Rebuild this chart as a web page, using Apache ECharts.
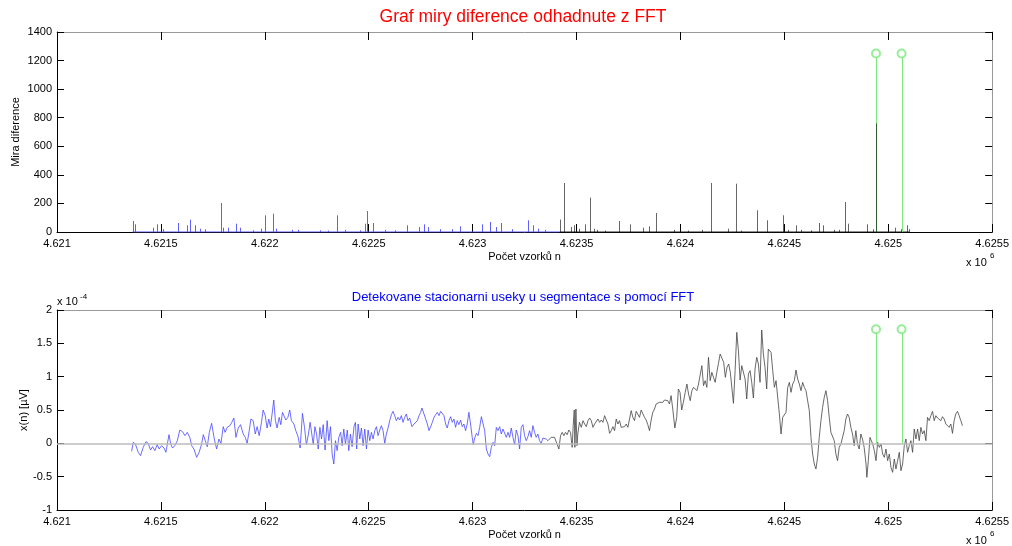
<!DOCTYPE html>
<html><head><meta charset="utf-8">
<script src="https://cdn.jsdelivr.net/npm/echarts/dist/echarts.min.js"></script>
<style>html,body{margin:0;padding:0;background:#fff}#c{width:1012px;height:546px}</style>
</head><body><div id="c"></div>
<script>
// ---------- DATA ----------
const xMin = 4621000, xMax = 4625500, xStep = 500;
const topYTicks = {min: 0, max: 1400, step: 200};
const botYTicks = {min: -1, max: 2, step: 0.5};   // units of 1e-4 µV

// FFT difference measure: [sample n, value]
const spikesBlue = [[4621364,77],[4621375,54],[4621460,30],[4621482,54],[4621511,20],[4621583,63],[4621624,47],[4621639,86],[4621663,47],[4621688,23],[4621712,19],[4621788,203],[4621800,30],[4621824,30],[4621859,58],[4621880,30],[4621941,12],[4621984,23],[4622003,117],[4622040,128],[4622056,23],[4622130,15],[4622159,15],[4622264,12],[4622303,10],[4622345,117],[4622385,15],[4622457,12],[4622481,58],[4622492,147],[4622521,63],[4622577,15],[4622625,12],[4622684,47],[4622742,35],[4622764,54],[4622785,35],[4622841,20],[4622899,20],[4622938,40],[4623047,54],[4623085,70],[4623114,35],[4623138,63],[4623188,20],[4623266,82],[4623290,47],[4623314,23],[4623346,15]];
const spikesBlack = [[4623418,87],[4623439,343],[4623474,35],[4623487,47],[4623514,23],[4623542,54],[4623566,240],[4623583,23],[4623600,15],[4623635,10],[4623702,77],[4623755,54],[4623819,30],[4623851,40],[4623883,133],[4623971,15],[4624035,10],[4624106,15],[4624148,343],[4624227,23],[4624268,338],[4624292,10],[4624369,152],[4624415,82],[4624494,117],[4624516,15],[4624556,47],[4624580,15],[4624630,12],[4624668,63],[4624684,47],[4624740,15],[4624764,15],[4624792,210],[4624805,58],[4624900,54],[4624928,20],[4624941,760],[4625032,30],[4625063,20],[4625090,47],[4625101,20]];

// detected segment boundaries
const changePoints = [4624941, 4625064];
const changeTopValue = 1250;
const changeBotValue = 1.71;

// signal x(n) in units of 1e-4
const signalBlue = [[4621359,-0.12],[4621367,0.015],[4621377,-0.01],[4621383,-0.01],[4621391,-0.135],[4621402,-0.185],[4621415,-0.06],[4621428,0.025],[4621439,0],[4621450,-0.1],[4621460,-0.05],[4621471,-0.11],[4621482,-0.02],[4621492,-0.085],[4621503,-0.035],[4621515,-0.07],[4621524,-0.135],[4621539,0.13],[4621547,-0.01],[4621556,-0.07],[4621567,-0.035],[4621579,0.04],[4621591,0.2],[4621604,0.175],[4621616,0.115],[4621627,0.165],[4621640,0.08],[4621648,-0.035],[4621659,-0.085],[4621672,-0.21],[4621684,-0.135],[4621696,-0.01],[4621704,0.13],[4621716,0.015],[4621723,-0.05],[4621733,0.165],[4621744,0.3],[4621757,0.065],[4621768,-0.085],[4621779,0.065],[4621789,0],[4621800,0.25],[4621809,0.165],[4621819,0.24],[4621832,0.265],[4621841,0.315],[4621851,0.38],[4621861,0.09],[4621872,0.23],[4621883,0.28],[4621896,0.14],[4621906,0.09],[4621915,0],[4621925,0.19],[4621933,0.365],[4621944,0.34],[4621954,0.14],[4621963,0.25],[4621973,0.115],[4621984,0.315],[4621992,0.5],[4622002,0.415],[4622011,0.23],[4622019,0.365],[4622027,0.25],[4622035,0.44],[4622043,0.65],[4622051,0.34],[4622059,0.23],[4622069,0.39],[4622077,0.28],[4622085,0.465],[4622093,0.48],[4622101,0.35],[4622111,0.39],[4622120,0.5],[4622128,0.34],[4622140,0.29],[4622149,0.19],[4622160,0.1],[4622170,-0.07],[4622181,0.45],[4622191,0.24],[4622200,-0.02],[4622210,0.14],[4622218,0.315],[4622226,0.14],[4622233,-0.02],[4622241,0.25],[4622249,0.14],[4622257,-0.085],[4622265,0.24],[4622273,0.065],[4622281,0.28],[4622290,-0.1],[4622300,0.34],[4622308,0.04],[4622316,0.25],[4622324,-0.16],[4622332,-0.31],[4622340,0.04],[4622348,-0.11],[4622356,0.09],[4622365,0.165],[4622372,-0.035],[4622380,0.215],[4622388,-0.01],[4622397,0.2],[4622404,-0.11],[4622412,0.14],[4622420,-0.05],[4622429,0.25],[4622436,0.315],[4622442,-0.085],[4622449,0.29],[4622457,0.065],[4622465,0.23],[4622473,-0.035],[4622481,0.215],[4622489,-0.085],[4622497,0.2],[4622505,0.04],[4622513,0.165],[4622521,0.065],[4622529,0.19],[4622537,0.25],[4622545,0.115],[4622553,0.2],[4622561,0.265],[4622569,0.19],[4622577,0],[4622585,0.14],[4622593,0.23],[4622601,0.34],[4622609,0.43],[4622617,0.48],[4622625,0.415],[4622633,0.34],[4622641,0.39],[4622649,0.35],[4622657,0.415],[4622665,0.315],[4622673,0.39],[4622681,0.44],[4622689,0.34],[4622697,0.38],[4622708,0.25],[4622718,0.29],[4622726,0.28],[4622734,0.34],[4622742,0.415],[4622750,0.465],[4622756,0.53],[4622766,0.44],[4622774,0.365],[4622782,0.29],[4622790,0.19],[4622798,0.25],[4622806,0.315],[4622814,0.39],[4622822,0.43],[4622830,0.465],[4622838,0.415],[4622846,0.48],[4622854,0.465],[4622862,0.415],[4622870,0.29],[4622878,0.23],[4622886,0.34],[4622894,0.4],[4622902,0.315],[4622910,0.365],[4622918,0.24],[4622926,0.34],[4622934,0.28],[4622942,0.35],[4622950,0.25],[4622958,0.29],[4622966,0.19],[4622974,0.29],[4622982,0.465],[4622990,0.29],[4622998,0.09],[4623003,-0.02],[4623010,0.08],[4623018,0.15],[4623026,0.115],[4623034,0.24],[4623042,0.4],[4623050,0.415],[4623058,0.19],[4623066,-0.085],[4623074,-0.16],[4623082,-0.2],[4623090,-0.06],[4623098,0.015],[4623106,-0.035],[4623114,0.24],[4623122,0.19],[4623130,0.25],[4623138,0.14],[4623146,0.215],[4623154,0.19],[4623162,0.09],[4623170,0.165],[4623178,0.09],[4623186,0.23],[4623194,0.09],[4623202,-0.02],[4623210,0.2],[4623218,0.115],[4623226,-0.085],[4623234,0.24],[4623242,0.28],[4623250,0.115],[4623258,0.04],[4623266,0.1],[4623274,0.19],[4623282,0.09],[4623290,0.265],[4623298,0.165],[4623306,0.09],[4623314,0.14],[4623322,0.04],[4623330,0],[4623338,0.08],[4623346,0.05],[4623354,0.065],[4623362,0.04]];
const signalBlack = [[4623362,0.04],[4623378,0.09],[4623394,0.09],[4623405,0],[4623415,-0.085],[4623423,0.115],[4623431,0.165],[4623439,0.115],[4623447,0.165],[4623455,0.13],[4623463,0.2],[4623471,0.165],[4623479,-0.06],[4623484,0.265],[4623489,0.5],[4623492,-0.06],[4623497,0.515],[4623502,-0.035],[4623506,0.14],[4623514,0.315],[4623523,0.24],[4623531,0.34],[4623539,0.29],[4623547,0.25],[4623555,0.34],[4623563,0.38],[4623571,0.34],[4623579,0.24],[4623587,0.29],[4623595,0.28],[4623603,0.365],[4623611,0.315],[4623619,0.35],[4623627,0.315],[4623635,0.415],[4623643,0.43],[4623651,0.29],[4623659,0.15],[4623667,0.19],[4623675,0.25],[4623683,0.19],[4623691,0.365],[4623699,0.29],[4623707,0.34],[4623715,0.24],[4623723,0.23],[4623731,0.25],[4623739,0.29],[4623747,0.24],[4623755,0.365],[4623763,0.49],[4623771,0.39],[4623779,0.34],[4623787,0.48],[4623795,0.45],[4623803,0.39],[4623811,0.5],[4623819,0.53],[4623827,0.39],[4623835,0.35],[4623843,0.28],[4623851,0.19],[4623859,0.35],[4623867,0.465],[4623875,0.515],[4623883,0.59],[4623891,0.565],[4623899,0.615],[4623907,0.59],[4623915,0.615],[4623923,0.65],[4623931,0.68],[4623939,0.64],[4623947,0.59],[4623955,0.715],[4623963,0.515],[4623973,0.23],[4623982,0.39],[4623990,0.815],[4623998,0.765],[4624006,0.5],[4624014,0.615],[4624023,0.765],[4624031,0.89],[4624039,0.74],[4624047,0.64],[4624055,0.79],[4624063,0.84],[4624071,0.865],[4624079,0.79],[4624087,0.89],[4624095,0.915],[4624103,1.165],[4624111,0.865],[4624119,0.94],[4624127,0.84],[4624135,1.29],[4624143,0.94],[4624151,1.065],[4624159,0.99],[4624167,0.915],[4624175,1.065],[4624183,1.2],[4624191,1.34],[4624200,1.34],[4624208,1.215],[4624216,0.99],[4624224,1.14],[4624232,1.19],[4624240,1.065],[4624248,0.815],[4624255,0.6],[4624263,1.09],[4624271,1.665],[4624279,1.39],[4624287,0.95],[4624295,1.165],[4624303,1.19],[4624311,0.965],[4624319,0.665],[4624327,1.04],[4624335,1.09],[4624343,0.915],[4624351,0.68],[4624359,1.115],[4624367,1.29],[4624375,1.19],[4624383,0.915],[4624391,1.7],[4624399,1.34],[4624407,1.14],[4624415,0.815],[4624423,1.415],[4624428,1.415],[4624436,1.365],[4624444,1.09],[4624452,0.84],[4624460,0.94],[4624468,0.965],[4624476,0.44],[4624484,0.14],[4624492,0.39],[4624500,0.415],[4624508,0.465],[4624516,0.84],[4624524,0.915],[4624532,0.765],[4624540,0.89],[4624548,0.94],[4624556,1.1],[4624564,0.965],[4624572,0.89],[4624580,0.79],[4624588,0.915],[4624596,0.84],[4624604,0.79],[4624612,0.765],[4624620,0.49],[4624628,0.09],[4624636,-0.16],[4624644,-0.31],[4624652,-0.385],[4624660,-0.21],[4624668,0.09],[4624676,0.34],[4624684,0.54],[4624692,0.69],[4624700,0.79],[4624708,0.64],[4624716,0.39],[4624724,0.165],[4624732,0.14],[4624740,0.04],[4624748,-0.16],[4624756,-0.26],[4624764,-0.06],[4624772,-0.01],[4624780,0.015],[4624788,0.19],[4624796,0.365],[4624804,0.44],[4624812,0.39],[4624820,0.24],[4624828,0.14],[4624836,-0.035],[4624844,0.19],[4624852,-0.01],[4624860,-0.085],[4624868,0.14],[4624876,0.065],[4624884,-0.06],[4624893,-0.31],[4624897,-0.51],[4624904,-0.26],[4624912,0.09],[4624917,0.115],[4624925,-0.01],[4624933,-0.11],[4624941,-0.26],[4624949,0.015],[4624957,-0.06],[4624965,-0.01],[4624973,-0.16],[4624981,-0.21],[4624989,-0.085],[4624997,-0.26],[4625005,-0.16],[4625013,-0.36],[4625021,-0.435],[4625029,-0.235],[4625037,-0.385],[4625045,-0.26],[4625053,-0.135],[4625061,-0.41],[4625069,-0.31],[4625077,-0.035],[4625085,0.065],[4625093,-0.135],[4625101,-0.035],[4625109,0.04],[4625117,-0.135],[4625125,0.215],[4625133,0.065],[4625141,0.215],[4625149,0.04],[4625157,0.24],[4625165,0.14],[4625173,0.19],[4625181,0.04],[4625189,0.39],[4625197,0.34],[4625205,0.415],[4625213,0.48],[4625221,0.34],[4625229,0.415],[4625237,0.38],[4625245,0.39],[4625253,0.34],[4625261,0.4],[4625269,0.365],[4625277,0.29],[4625285,0.315],[4625293,0.24],[4625301,0.29],[4625309,0.15],[4625317,0.34],[4625325,0.44],[4625333,0.48],[4625341,0.415],[4625349,0.34],[4625357,0.265]];

// ---------- CHART ----------
const FONT = '"Liberation Sans", Arial, sans-serif';
const chart = echarts.init(document.getElementById('c'), null, {renderer: 'canvas'});

function stemSeries(data, color, xi, yi, width, opacity, z) {
  return {
    type: 'custom', coordinateSystem: 'cartesian2d', xAxisIndex: xi, yAxisIndex: yi,
    data: data, z: z, silent: true, clip: true,
    renderItem: function (params, api) {
      const p0 = api.coord([api.value(0), 0]);
      const p1 = api.coord([api.value(0), api.value(1)]);
      const px = Math.round(p0[0]) + 0.5;   // pixel-snap the 1px stem
      return {type: 'line', shape: {x1: px, y1: p0[1], x2: px, y2: p1[1]},
        style: {stroke: color, lineWidth: width, opacity: opacity}};
    }
  };
}
const xFmt = v => String(parseFloat((v / 1e6).toFixed(4)));
const yFmt = v => String(parseFloat(v.toFixed(2)));

function xAxes(gi) {
  return [
    {gridIndex: gi, type: 'value', position: 'bottom', min: xMin, max: xMax, interval: xStep,
     axisLine: {onZero: false, lineStyle: {color: '#000', width: 1}},
     axisTick: {show: true, inside: true, length: 8, lineStyle: {color: '#000', width: 1}},
     axisLabel: {color: '#000', fontSize: 11, fontFamily: FONT, margin: 6, formatter: xFmt},
     splitLine: {show: false},
     name: 'Počet vzorků n', nameLocation: 'middle', nameGap: 19, nameMoveOverlap: false,
     nameTextStyle: {color: '#000', fontSize: 11, fontFamily: FONT}},
    {gridIndex: gi, type: 'value', position: 'top', min: xMin, max: xMax, interval: xStep,
     axisLine: {onZero: false, lineStyle: {color: '#999', width: 1}},
     axisTick: {show: true, inside: true, length: 8, lineStyle: {color: '#000', width: 1}},
     axisLabel: {show: false}, splitLine: {show: false}}
  ];
}
function yAxes(gi, t, name, gap) {
  return [
    {gridIndex: gi, type: 'value', position: 'left', min: t.min, max: t.max, interval: t.step,
     axisLine: {show: true, onZero: false, lineStyle: {color: '#000', width: 1}},
     axisTick: {show: true, inside: true, length: 7, lineStyle: {color: '#000'}},
     axisLabel: {color: '#000', fontSize: 11, fontFamily: FONT, margin: 5, formatter: yFmt},
     splitLine: {show: false},
     name: name, nameLocation: 'middle', nameGap: gap, nameMoveOverlap: false,
     nameTextStyle: {color: '#000', fontSize: 11, fontFamily: FONT}},
    {gridIndex: gi, type: 'value', position: 'right', min: t.min, max: t.max, interval: t.step,
     axisLine: {show: true, onZero: false, lineStyle: {color: '#999', width: 1}},
     axisTick: {show: true, inside: true, length: 7, lineStyle: {color: '#000'}},
     axisLabel: {show: false}, splitLine: {show: false}}
  ];
}

const blueStart = spikesBlue[0][0], blackStart = spikesBlack[0][0];
const blackEnd = spikesBlack[spikesBlack.length - 1][0];
const GREEN = '#7ee87e';

const option = {
  animation: false,
  backgroundColor: '#fff',
  grid: [
    {left: 57, top: 32, width: 936, height: 200},
    {left: 57, top: 310, width: 936, height: 200}
  ],
  xAxis: [...xAxes(0), ...xAxes(1)],
  yAxis: [...yAxes(0, topYTicks, 'Mira diference', 36), ...yAxes(1, botYTicks, 'x(n) [µV]', 28)],
  graphic: [
    {type: 'text', x: 523, y: 17, style: {text: 'Graf miry diference odhadnute z FFT', fill: '#ff0000', font: '17.5px ' + FONT, align: 'center', verticalAlign: 'middle'}},
    {type: 'text', x: 523, y: 297, style: {text: 'Detekovane stacionarni useky u segmentace s pomocí FFT', fill: '#0000ff', font: '13px ' + FONT, align: 'center', verticalAlign: 'middle'}},
    {type: 'text', x: 966, y: 263, style: {text: 'x 10', fill: '#000', font: '11px ' + FONT, align: 'left', verticalAlign: 'middle'}},
    {type: 'text', x: 990, y: 256, style: {text: '6', fill: '#000', font: '8px ' + FONT, align: 'left', verticalAlign: 'middle'}},
    {type: 'text', x: 966, y: 541, style: {text: 'x 10', fill: '#000', font: '11px ' + FONT, align: 'left', verticalAlign: 'middle'}},
    {type: 'text', x: 990, y: 534, style: {text: '6', fill: '#000', font: '8px ' + FONT, align: 'left', verticalAlign: 'middle'}},
    {type: 'text', x: 57, y: 302, style: {text: 'x 10', fill: '#000', font: '11px ' + FONT, align: 'left', verticalAlign: 'middle'}},
    {type: 'text', x: 80, y: 297, style: {text: '-4', fill: '#000', font: '8px ' + FONT, align: 'left', verticalAlign: 'middle'}}
  ],
  series: [
    // top: baseline of the difference measure
    {type: 'line', xAxisIndex: 0, yAxisIndex: 0, data: [[blueStart, 0], [blackStart, 0]], showSymbol: false, silent: true, z: 3,
     lineStyle: {color: '#5555ff', width: 1}},
    {type: 'line', xAxisIndex: 0, yAxisIndex: 0, data: [[blackStart, 0], [blackEnd, 0]], showSymbol: false, silent: true, z: 3,
     lineStyle: {color: '#222', width: 1}},
    stemSeries(changePoints.map(n => [n, changeTopValue]), GREEN, 0, 0, 1, 1, 4),
    {type: 'scatter', xAxisIndex: 0, yAxisIndex: 0, data: changePoints.map(n => [n, changeTopValue]),
     symbol: 'emptyCircle', symbolSize: 8, silent: true, z: 5,
     itemStyle: {color: GREEN, borderColor: GREEN, borderWidth: 1}},
    stemSeries(spikesBlue, '#6060ff', 0, 0, 1, 1, 6),
    stemSeries(spikesBlack, '#000', 0, 0, 1, 0.6, 6),
    // bottom: signal
    {type: 'line', xAxisIndex: 2, yAxisIndex: 2, data: signalBlue, showSymbol: false, silent: true, z: 4,
     lineStyle: {color: '#4848ff', width: 0.8},
     markLine: {silent: true, symbol: 'none', label: {show: false}, data: [{yAxis: 0}],
       lineStyle: {color: '#bbbbbb', type: 'solid', width: 1.5}}},
    {type: 'line', xAxisIndex: 2, yAxisIndex: 2, data: signalBlack, showSymbol: false, silent: true, z: 4,
     lineStyle: {color: '#444', width: 0.8}},
    stemSeries(changePoints.map(n => [n, changeBotValue]), GREEN, 2, 2, 1, 1, 6),
    {type: 'scatter', xAxisIndex: 2, yAxisIndex: 2, data: changePoints.map(n => [n, changeBotValue]),
     symbol: 'emptyCircle', symbolSize: 8, silent: true, z: 7,
     itemStyle: {color: GREEN, borderColor: GREEN, borderWidth: 1}}
  ]
};
chart.setOption(option);
</script>
</body></html>
